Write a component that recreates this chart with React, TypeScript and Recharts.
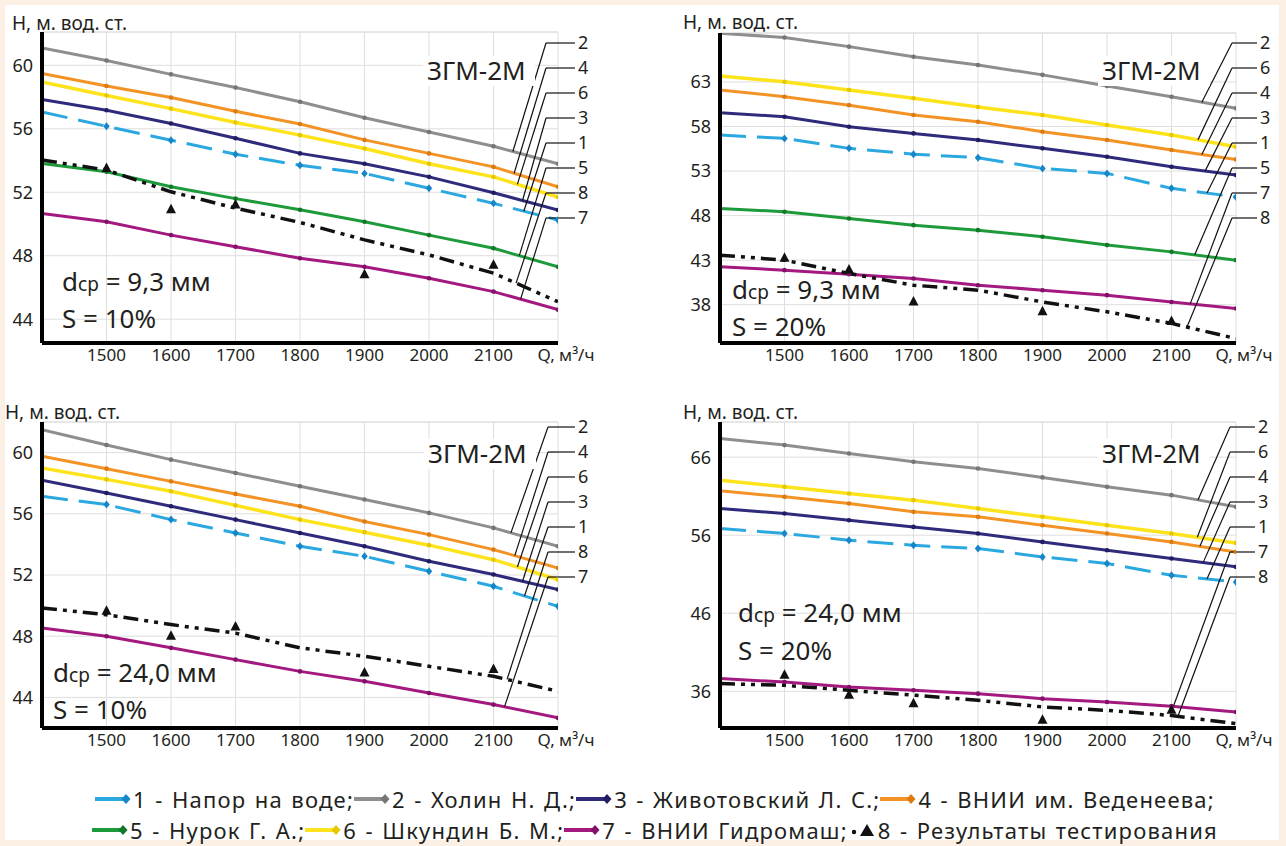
import React from 'react';
import { LineChart, Line, XAxis, YAxis, CartesianGrid, ReferenceLine, ReferenceDot } from 'recharts';

// ---------- data ----------
const Q_VALUES = [1400, 1500, 1600, 1700, 1800, 1900, 2000, 2100, 2200];
const X_TICKS = [1500, 1600, 1700, 1800, 1900, 2000, 2100, 2200];
const TEST_Q = [1500, 1600, 1700, 1900, 2100];

// Panel A: d = 9,3 mm, S = 10%
const a1 = [57.06, 56.16, 55.28, 54.4, 53.7, 53.19, 52.25, 51.3, 50.25];
const a2 = [61.09, 60.3, 59.43, 58.6, 57.7, 56.7, 55.8, 54.9, 53.8];
const a3 = [57.84, 57.17, 56.33, 55.4, 54.45, 53.8, 52.97, 51.97, 50.88];
const a4 = [59.48, 58.7, 57.97, 57.1, 56.3, 55.3, 54.45, 53.6, 52.35];
const a5 = [53.82, 53.29, 52.35, 51.6, 50.9, 50.14, 49.3, 48.47, 47.3];
const a6 = [58.95, 58.1, 57.27, 56.4, 55.6, 54.76, 53.8, 52.97, 51.7];
const a7 = [50.67, 50.14, 49.3, 48.57, 47.84, 47.3, 46.58, 45.74, 44.6];
const a8 = [54.03, 53.4, 52.03, 51.0, 50.1, 49.0, 48.05, 46.9, 45.1];
const aTest = [53.5, 50.9, 51.2, 46.8, 47.4];

// Panel B: d = 9,3 mm, S = 20%
const b1 = [57.04, 56.67, 55.55, 54.9, 54.5, 53.3, 52.74, 51.06, 50.1];
const b2 = [68.47, 68.0, 66.97, 65.84, 64.9, 63.8, 62.55, 61.35, 60.04];
const b3 = [59.55, 59.1, 57.98, 57.23, 56.48, 55.55, 54.6, 53.48, 52.55];
const b4 = [62.1, 61.35, 60.4, 59.3, 58.54, 57.42, 56.48, 55.36, 54.31];
const b5 = [48.81, 48.43, 47.68, 46.93, 46.37, 45.62, 44.69, 43.93, 43.0];
const b6 = [63.67, 63.03, 62.1, 61.17, 60.2, 59.3, 58.17, 57.04, 55.73];
const b7 = [42.25, 41.88, 41.43, 40.94, 40.19, 39.63, 39.07, 38.31, 37.57];
const b8 = [43.56, 43.0, 41.5, 40.19, 39.63, 38.31, 37.2, 35.9, 34.2];
const bTest = [43.2, 41.9, 38.3, 37.2, 36.1];

// Panel C: d = 24,0 mm, S = 10%
const c1 = [57.14, 56.6, 55.62, 54.75, 53.88, 53.22, 52.24, 51.26, 49.95];
const c2 = [61.5, 60.5, 59.54, 58.67, 57.8, 56.93, 56.06, 55.08, 53.88];
const c3 = [58.19, 57.36, 56.49, 55.62, 54.75, 53.88, 52.9, 52.03, 51.05];
const c4 = [59.76, 58.95, 58.12, 57.3, 56.49, 55.5, 54.64, 53.66, 52.46];
const c6 = [59.0, 58.25, 57.47, 56.55, 55.62, 54.8, 53.95, 53.0, 51.7];
const c7 = [48.54, 48.0, 47.24, 46.47, 45.7, 45.05, 44.29, 43.53, 42.66];
const c8 = [49.85, 49.4, 48.76, 48.2, 47.24, 46.69, 46.03, 45.38, 44.4];
const cTest = [49.63, 47.99, 48.6, 45.6, 45.82];

// Panel D: d = 24,0 mm, S = 20%
const d1 = [56.86, 56.22, 55.36, 54.7, 54.3, 53.22, 52.37, 50.87, 50.0];
const d2 = [68.4, 67.54, 66.47, 65.4, 64.55, 63.4, 62.2, 61.13, 59.63];
const d3 = [59.42, 58.78, 57.92, 57.06, 56.22, 55.14, 54.08, 53.01, 51.94];
const d4 = [61.68, 60.91, 60.06, 58.99, 58.35, 57.28, 56.22, 55.14, 53.86];
const d6 = [63.05, 62.2, 61.35, 60.49, 59.42, 58.35, 57.28, 56.22, 55.01];
const d7 = [37.63, 37.2, 36.55, 36.13, 35.7, 35.06, 34.63, 34.1, 33.35];
const d8 = [36.99, 36.77, 36.13, 35.5, 34.85, 34.0, 33.56, 32.9, 31.86];
const dTest = [38.05, 35.5, 34.42, 32.3, 33.56];

const TICKS_A = [44, 48, 52, 56, 60];
const TICKS_B = [38, 43, 48, 53, 58, 63];
const TICKS_C = [44, 48, 52, 56, 60];
const TICKS_D = [36, 46, 56, 66];

const CALLOUT_A = ['2', '4', '6', '3', '1', '5', '8', '7'];
const CALLOUT_B = ['2', '6', '4', '3', '1', '5', '7', '8'];
const CALLOUT_C = ['2', '4', '6', '3', '1', '8', '7'];
const CALLOUT_D = ['2', '6', '4', '3', '1', '7', '8'];

const LEGEND_NAMES: Record<string, string> = {
  '1': 'Напор на воде;',
  '2': 'Холин Н. Д.;',
  '3': 'Животовский Л. С.;',
  '4': 'ВНИИ им. Веденеева;',
  '5': 'Нурок Г. А.;',
  '6': 'Шкундин Б. М.;',
  '7': 'ВНИИ Гидромаш;',
  '8': 'Результаты тестирования',
};
const LEGEND_ROWS = [['1', '2', '3', '4'], ['5', '6', '7', '8']];

// ---------- styles ----------
const FONT = '"Noto Sans", "Open Sans", sans-serif';
const INK = '#231f20';
const GRID = '#dedede';
const PLOT_W = 516;

type Sty = { color: string; mark: string; dash?: string; width: number; diamond?: boolean };
const STYLE: Record<string, Sty> = {
  '1': { color: '#2ba8e0', mark: '#1686c8', dash: '26 11', width: 3, diamond: true },
  '2': { color: '#8e8e8e', mark: '#767676', width: 3 },
  '3': { color: '#2e2a7c', mark: '#211d62', width: 3 },
  '4': { color: '#f39325', mark: '#dc7c10', width: 3 },
  '5': { color: '#1d9a3a', mark: '#12782a', width: 3 },
  '6': { color: '#fde31c', mark: '#e6c800', width: 3.5 },
  '7': { color: '#a3197f', mark: '#83106a', width: 3 },
  '8': { color: '#111111', mark: '#111111', dash: '15 6 4 6 4 6', width: 3.5 },
};
const DRAW_ORDER = ['6', '4', '2', '3', '1', '5', '7', '8'];

type PanelCfg = {
  left: number; top: number; w: number; h: number;
  plotLeft: number; plotTop: number; plotH: number;
  domain: [number, number]; ticks: number[];
  series: Record<string, number[]>; tests: number[];
  callouts: string[]; anchors: number[]; slot0: number; hx: [number, number];
};

const PANELS: PanelCfg[] = [
  {
    left: 0, top: 0, w: 640, h: 390, plotLeft: 42, plotTop: 32, plotH: 311,
    domain: [42.5, 62.1], ticks: TICKS_A,
    series: { '1': a1, '2': a2, '3': a3, '4': a4, '5': a5, '6': a6, '7': a7, '8': a8 }, tests: aTest,
    callouts: CALLOUT_A, anchors: [2130, 2132, 2137, 2145, 2147, 2140, 2135, 2142], slot0: 11, hx: [504, 533],
  },
  {
    left: 640, top: 0, w: 646, h: 390, plotLeft: 80, plotTop: 33, plotH: 310,
    domain: [33.7, 68.5], ticks: TICKS_B,
    series: { '1': b1, '2': b2, '3': b3, '4': b4, '5': b5, '6': b6, '7': b7, '8': b8 }, tests: bTest,
    callouts: CALLOUT_B, anchors: [2147, 2141, 2147, 2152, 2155, 2136, 2129, 2124], slot0: 10, hx: [512, 537],
  },
  {
    left: 0, top: 390, w: 640, h: 390, plotLeft: 42, plotTop: 32, plotH: 306,
    domain: [42.0, 62.0], ticks: TICKS_C,
    series: { '1': c1, '2': c2, '3': c3, '4': c4, '6': c6, '7': c7, '8': c8 }, tests: cTest,
    callouts: CALLOUT_C, anchors: [2127, 2133, 2137, 2145, 2148, 2121, 2117], slot0: 5, hx: [506, 533],
  },
  {
    left: 640, top: 390, w: 646, h: 390, plotLeft: 80, plotTop: 32, plotH: 306,
    domain: [31.3, 70.5], ticks: TICKS_D,
    series: { '1': d1, '2': d2, '3': d3, '4': d4, '6': d6, '7': d7, '8': d8 }, tests: dTest,
    callouts: CALLOUT_D, anchors: [2141, 2140, 2144, 2149, 2155, 2103, 2110], slot0: 5, hx: [510, 535],
  },
];

type Note = { yl: [number, number]; model: [number, number]; d: [number, number]; dval: string; s: [number, number]; sval: string };
const NOTES: Note[] = [
  { yl: [12, 30], model: [427, 80], d: [62, 291], dval: '9,3', s: [62, 328], sval: '10%' },
  { yl: [683, 29], model: [1102, 80], d: [732, 299], dval: '9,3', s: [732, 336], sval: '20%' },
  { yl: [5, 419], model: [428, 463], d: [53, 682], dval: '24,0', s: [53, 719], sval: '10%' },
  { yl: [683, 419], model: [1102, 463], d: [738, 622], dval: '24,0', s: [738, 660], sval: '20%' },
];

function interp(vals: number[], q: number) {
  const t = (q - 1400) / 100;
  const i = Math.max(0, Math.min(Math.floor(t), vals.length - 2));
  const f = t - i;
  return vals[i] * (1 - f) + vals[i + 1] * f;
}

const makeDot = (s: Sty) => (props: any) => {
  const { cx, cy, index } = props;
  if (cx == null || cy == null || index === 0) return <g key={`k${index}`} />;
  if (s.diamond) {
    return <path key={`k${index}`} d={`M${cx},${cy - 4}L${cx + 3.2},${cy}L${cx},${cy + 4}L${cx - 3.2},${cy}Z`} fill={s.mark} />;
  }
  return <circle key={`k${index}`} cx={cx} cy={cy} r={2.3} fill={s.mark} />;
};

const triDot = (props: any) => {
  const { cx, cy, index } = props;
  if (cx == null || cy == null) return <g key={`t${index}`} />;
  return <path key={`t${index}`} d={`M${cx},${cy - 6}L${cx + 5},${cy + 3.5}L${cx - 5},${cy + 3.5}Z`} fill="#111" />;
};

const XTick = (props: any) => {
  const { x, y, payload } = props;
  const isQ = payload.value === 2200;
  return (
    <text x={x + (isQ ? 8 : 0)} y={y} dy="0.71em" textAnchor="middle" fontSize={17} fill={INK} fontFamily={FONT}>
      {isQ ? 'Q, м³/ч' : payload.value}
    </text>
  );
};

function Panel({ p }: { p: PanelCfg }) {
  const rows = Q_VALUES.map((q, i) => {
    const r: Record<string, number> = { q };
    Object.keys(p.series).forEach((k) => { r['s' + k] = p.series[k][i]; });
    return r;
  });
  const tests = TEST_Q.map((q, i) => ({ q, t: p.tests[i] }));
  const [y0, y1] = p.domain;
  const toQ = (rx: number) => 1400 + (rx / PLOT_W) * 800;
  const toH = (ry: number) => y1 - (ry / p.plotH) * (y1 - y0);
  const margin = {
    top: p.plotTop,
    left: p.plotLeft - 40,
    right: p.w - p.plotLeft - PLOT_W,
    bottom: p.h - p.plotTop - p.plotH - 30,
  };
  const hx0 = toQ(p.hx[0]);
  const hx1 = toQ(p.hx[1]);

  return (
    <div style={{ position: 'absolute', left: p.left, top: p.top }}>
      <LineChart width={p.w} height={p.h} data={rows} margin={margin}>
        <CartesianGrid stroke={GRID} strokeWidth={1} />
        <ReferenceLine y={y1} stroke={GRID} strokeWidth={1} />
        <XAxis
          type="number" dataKey="q" domain={[1400, 2200]} ticks={X_TICKS} allowDataOverflow
          height={30} tickSize={0} tickMargin={6} tick={<XTick />}
          axisLine={{ stroke: '#000', strokeWidth: 4 }} tickLine={false}
        />
        <YAxis
          type="number" domain={p.domain} ticks={p.ticks} allowDataOverflow width={40}
          tickSize={0} tickMargin={9} tick={{ fontSize: 18, fill: INK, fontFamily: FONT }}
          axisLine={{ stroke: '#000', strokeWidth: 4 }} tickLine={false}
        />
        {DRAW_ORDER.filter((id) => p.series[id]).map((id) => {
          const s = STYLE[id];
          return (
            <Line
              key={id} type="linear" dataKey={'s' + id} stroke={s.color} strokeWidth={s.width}
              strokeDasharray={s.dash} dot={id === '8' ? false : makeDot(s)} activeDot={false}
              isAnimationActive={false}
            />
          );
        })}
        <Line
          data={tests} dataKey="t" stroke="none" dot={triDot} activeDot={false} isAnimationActive={false}
        />
        {p.callouts.map((id, i) => {
          const ly = toH(p.slot0 + i * 25);
          const ax = p.anchors[i];
          const ay = interp(p.series[id], ax);
          return (
            <ReferenceLine
              key={'d' + id} ifOverflow="visible" stroke="#111" strokeWidth={1.2}
              segment={[{ x: ax, y: ay }, { x: hx0, y: ly }]}
            />
          );
        })}
        {p.callouts.map((id, i) => {
          const ly = toH(p.slot0 + i * 25);
          return (
            <ReferenceLine
              key={'h' + id} ifOverflow="visible" stroke="#111" strokeWidth={1.2}
              segment={[{ x: hx0, y: ly }, { x: hx1, y: ly }]}
            />
          );
        })}
        {p.callouts.map((id, i) => {
          const ly = toH(p.slot0 + i * 25);
          return (
            <ReferenceDot
              key={'l' + id} x={hx1} y={ly} r={0} ifOverflow="visible" fill="none" stroke="none"
              label={{ value: id, position: 'right', offset: 3, fill: INK, fontSize: 18, fontFamily: FONT }}
            />
          );
        })}
      </LineChart>
    </div>
  );
}

function LegendGlyph({ id }: { id: string }) {
  const s = STYLE[id];
  if (id === '8') {
    return (
      <svg width={28} height={18} style={{ display: 'inline-block', verticalAlign: 'middle', marginRight: 2 }}>
        <circle cx={6} cy={11} r={2.2} fill="#111" />
        <path d="M19,3L26,15L12,15Z" fill="#111" />
      </svg>
    );
  }
  return (
    <svg width={36} height={18} style={{ display: 'inline-block', verticalAlign: 'middle', marginRight: 2 }}>
      <line x1={0} y1={9} x2={30} y2={9} stroke={s.color} strokeWidth={4} />
      <path d="M31,4L35.5,9L31,14L26.5,9Z" fill={s.mark} />
    </svg>
  );
}

export default function App() {
  return (
    <div style={{ position: 'absolute', left: 0, top: 0, width: 1286, height: 846, background: '#fcefe4', fontFamily: FONT, overflow: 'hidden' }}>
      <div style={{ position: 'absolute', left: 5, top: 5, width: 1274, height: 835, background: '#ffffff' }} />
      {PANELS.map((p, i) => <Panel key={i} p={p} />)}
      <svg width={1286} height={846} style={{ position: 'absolute', left: 0, top: 0, pointerEvents: 'none' }}>
        {NOTES.map((n, i) => (
          <g key={i} fontFamily={FONT} fill={INK}>
            <text x={n.yl[0]} y={n.yl[1]} fontSize={19}>Н, м. вод. ст.</text>
            <rect x={n.model[0] - 4} y={n.model[1] - 24} width={112} height={30} fill="#fff" />
            <text x={n.model[0]} y={n.model[1]} fontSize={26}>ЗГМ-2М</text>
            <text x={n.d[0]} y={n.d[1]} fontSize={26}>
              d<tspan fontSize={19}>ср</tspan> = {n.dval} мм
            </text>
            <text x={n.s[0]} y={n.s[1]} fontSize={26}>S = {n.sval}</text>
          </g>
        ))}
      </svg>
      {LEGEND_ROWS.map((row, ri) => (
        <div
          key={ri}
          style={{
            position: 'absolute', left: 0, width: 1310, top: ri === 0 ? 784 : 815, height: 30,
            display: 'flex', justifyContent: 'center', alignItems: 'center', fontSize: 22, color: INK,
            whiteSpace: 'nowrap', lineHeight: '30px', letterSpacing: '1.2px', wordSpacing: '1.5px',
          }}
        >
          {row.map((id) => (
            <span key={id} style={{ display: 'inline-flex', alignItems: 'center' }}>
              <LegendGlyph id={id} />
              <span>{id} - {LEGEND_NAMES[id]}</span>
            </span>
          ))}
        </div>
      ))}
    </div>
  );
}
